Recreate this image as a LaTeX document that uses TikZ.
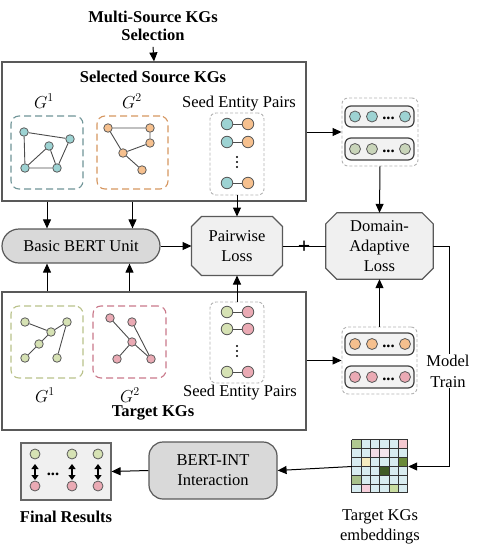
\documentclass[tikz,border=0pt]{standalone}
\usepackage{fontspec}
\setmainfont{Liberation Serif}
\usetikzlibrary{arrows.meta,calc,positioning}
\pgfdeclarelayer{background}
\pgfsetlayers{background,main}
\tikzset{>={Triangle[length=9pt,width=8pt]}}
\definecolor{entTeal}{HTML}{9DD3D3}
\definecolor{entOrange}{HTML}{F6C08E}
\definecolor{entOlive}{HTML}{D6E2B4}
\definecolor{entPink}{HTML}{EAAAB4}
\definecolor{entGrey}{HTML}{C9D5BA}
\definecolor{lineTeal}{HTML}{6F9497}
\definecolor{lineOrange}{HTML}{D59660}
\definecolor{lineOlive}{HTML}{B9C18A}
\definecolor{linePink}{HTML}{C9788A}
\definecolor{cellBlue}{HTML}{D8ECF0}
\tikzset{%
    kgframe/.style={draw=black!65,line width=1.2pt,inner sep=0pt},%
    gbox/.style={draw=#1,dashed,dash pattern=on 7pt off 4pt,rounded corners=8pt,
        line width=1.1pt,inner sep=0pt},%
    grpbox/.style={draw=black!30,dashed,dash pattern=on 3pt off 2pt,rounded corners=6pt,
        line width=0.9pt,inner sep=0pt},%
    ent/.style={circle,draw=black!65,fill=#1,minimum size=8.5pt,inner sep=0pt,line width=0.8pt},%
    sent/.style={ent=#1,minimum size=11.5pt},%
    rowbox/.style={draw=black!75,fill=black!5,rounded corners=6pt,line width=1.2pt,
        minimum width=69pt,minimum height=21pt,inner sep=0pt},%
    lossbox/.style={align=center,inner sep=0pt},%
    lossline/.style={draw=black!65,fill=black!6,line width=1.2pt},%
    unitbox/.style={draw=black!65,fill=black!15,line width=1.2pt,align=center,inner sep=0pt},%
    glabel/.style={font=\fontsize{18}{20}\selectfont,inner sep=1pt},%
    arr/.style={->,line width=1pt},%
    gedge/.style={draw=black!70,line width=0.9pt}%
}
% chamfered outline behind a named node: #1 node, #2 size of the cut
\newcommand{\chamferbox}[2]{%
  \begin{pgfonlayer}{background}
    \path[lossline] ($(#1.north west)+(#2,0)$) -- ($(#1.north east)+(-#2,0)$)
      -- ($(#1.north east)+(0,#2)$) -- ($(#1.south east)+(0,-#2)$)
      -- ($(#1.south east)+(-#2,0)$) -- ($(#1.south west)+(#2,0)$)
      -- ($(#1.south west)+(0,-#2)$) -- ($(#1.north west)+(0,#2)$) -- cycle;
  \end{pgfonlayer}
}
\begin{document}
\fontsize{16.5}{20}\selectfont
\begin{tikzpicture}[x=1pt,y=-1pt,line width=1pt]
    \useasboundingbox (0,0) rectangle (480,555);
    % frames of the two KG groups
    \node[kgframe,minimum width=304pt,minimum height=139pt] (src) at (154,131.5) {};
    \node[kgframe,minimum width=304pt,minimum height=138pt] (tgt) at (154,361) {};
    \node[font=\bfseries,align=center] (sel) at (153,26) {Multi-Source KGs\\[-2pt]Selection};
    \node[font=\bfseries] (srct) at (153,77) {Selected Source KGs};
    \node[font=\bfseries] (tgtt) at (153,413) {Target KGs};
    % source graphs
    \node[glabel] (gl1s) at (44,101) {$G^{1}$};
    \node[glabel] (gl2s) at (132,101) {$G^{2}$};
    \node[gbox=lineTeal,minimum width=72pt,minimum height=73pt] (g1s) at (47,152.5) {};
    \node[gbox=lineOrange,minimum width=71pt,minimum height=73pt] (g2s) at (132.5,152.5) {};
    \node[ent=entTeal] (a1) at (24,132) {};
    \node[ent=entTeal] (a2) at (70,139) {};
    \node[ent=entTeal] (a3) at (49,146) {};
    \node[ent=entTeal] (a4) at (25,168) {};
    \node[ent=entTeal] (a5) at (57,168) {};
    \draw[gedge] (a1) -- (a2) (a1) -- (a4) (a2) -- (a5) (a3) -- (a4) (a3) -- (a5) (a4) -- (a5);
    \node[ent=entOrange] (b1) at (108,128) {};
    \node[ent=entOrange] (b2) at (150,128) {};
    \node[ent=entOrange] (b3) at (150,143) {};
    \node[ent=entOrange] (b4) at (123,153) {};
    \node[ent=entOrange] (b5) at (142,170) {};
    \draw[gedge] (b1) -- (b2) (b2) -- (b3) (b1) -- (b4) (b4) -- (b3) (b4) -- (b5);
    % target graphs
    \node[glabel] (gl1t) at (45,395) {$G^{1}$};
    \node[glabel] (gl2t) at (130,395) {$G^{2}$};
    \node[gbox=lineOlive,minimum width=72pt,minimum height=72pt] (g1t) at (47,342) {};
    \node[gbox=linePink,minimum width=73pt,minimum height=72pt] (g2t) at (129.5,342) {};
    \node[ent=entOlive] (c1) at (25,322) {};
    \node[ent=entOlive] (c2) at (67,322) {};
    \node[ent=entOlive] (c3) at (51,332) {};
    \node[ent=entOlive] (c4) at (39,344) {};
    \node[ent=entOlive] (c5) at (25,358) {};
    \node[ent=entOlive] (c6) at (57,358) {};
    \draw[gedge] (c1) -- (c3) (c3) -- (c2) (c3) -- (c4) (c4) -- (c5) (c2) -- (c6);
    \node[ent=entPink] (d1) at (110,318) {};
    \node[ent=entPink] (d2) at (132,322) {};
    \node[ent=entPink] (d3) at (132,342) {};
    \node[ent=entPink] (d4) at (117,359) {};
    \node[ent=entPink] (d5) at (151,359) {};
    \draw[gedge] (d1) -- (d3) (d3) -- (d5) (d2) -- (d5) (d3) -- (d4);
    % seed entity pairs
    \node (spt) at (239,104) {Seed Entity Pairs};
    \node (spb) at (240,393) {Seed Entity Pairs};
    \node[grpbox,minimum width=54pt,minimum height=82pt] (seeds) at (237,154) {};
    \node[grpbox,minimum width=54pt,minimum height=81pt] (seedt) at (237,342.5) {};
    \foreach \y in {124,142,183} {
        \node[sent=entTeal] (sl\y) at (227,\y) {};
        \node[sent=entOrange] (sr\y) at (248,\y) {};
        \draw[gedge] (sl\y) -- (sr\y);
    }
    \foreach \y in {312,329,372} {
        \node[sent=entOlive] (tl\y) at (227,\y) {};
        \node[sent=entPink] (tr\y) at (248,\y) {};
        \draw[gedge] (tl\y) -- (tr\y);
    }
    % vertical dots between the pairs
    \foreach \d in {-5,0,5} {
        \fill (237,162+\d) circle (1.2);
        \fill (237,351+\d) circle (1.2);
    }
    % embedding groups
    \node[grpbox,minimum width=76pt,minimum height=68pt] (embs) at (380,132) {};
    \node[grpbox,minimum width=75pt,minimum height=67pt] (embt) at (379.5,360.5) {};
    \node[rowbox] (es1) at (379.5,116.5) {};
    \node[rowbox,minimum height=22pt] (es2) at (379.5,149) {};
    \node[rowbox,minimum height=22pt] (et1) at (379.5,344) {};
    \node[rowbox,minimum height=22pt] (et2) at (379.5,377) {};
    \foreach \r/\col in {es1/entTeal,es2/entGrey,et1/entOrange,et2/entPink} {
        \node[sent=\col,minimum size=11pt] at ($(\r.center)+(-24.5,0)$) {};
        \node[sent=\col,minimum size=11pt] at ($(\r.center)+(-7.5,0)$) {};
        \node[sent=\col,minimum size=11pt] at ($(\r.center)+(25.5,0)$) {};
        \node[font=\bfseries,inner sep=0pt] at ($(\r.center)+(9,2)$) {...};
    }
    % units and losses
    \node[unitbox,rounded corners=17pt,minimum width=158pt,minimum height=34pt] (bbu) at (81,246) {Basic BERT Unit};
    \node[lossbox,minimum width=90pt,minimum height=58pt] (pl) at (237,246) {Pairwise\\Loss};
    \chamferbox{pl}{10}
    \node[lossbox,minimum width=107pt,minimum height=66pt] (dal) at (379.5,246) {Domain-\\Adaptive\\Loss};
    \chamferbox{dal}{11}
    \node[unitbox,rounded corners=14pt,minimum width=128pt,minimum height=57pt] (bint) at (213,470.5) {BERT-INT\\Interaction};
    % embedding matrix
    \node[inner sep=0pt,minimum width=56pt,minimum height=53pt] (mat) at (380,466.5) {};
    \begin{scope}[shift={(mat.north west)}]
        \foreach \r in {0,...,5} {
            \foreach \c in {0,...,5} {
                \fill[cellBlue] (\c*9.33,\r*8.83) rectangle ++(9.33,8.83);
            }
        }
        \foreach \r/\c/\col in {0/0/B0C890,0/5/F4C8D0,1/2/F2DDE6,1/3/F4E4EC,2/1/F5ECC0,2/5/6A8A3A,
                3/3/3F5A25,4/0/A8C08A,5/1/F5D0DC,5/4/C8DCA0} {
            \definecolor{cellTmp}{HTML}{\col}
            \fill[cellTmp] (\c*9.33,\r*8.83) rectangle ++(9.33,8.83);
        }
        \foreach \i in {0,...,6} {
            \draw[black!80,line width=0.8pt] (\i*9.33,0) -- ++(0,53);
            \draw[black!80,line width=0.8pt] (0,\i*8.83) -- ++(56,0);
        }
    \end{scope}
    \node[align=center] (embtxt) at (380,527) {Target KGs\\embeddings};
    % final results
    \node[draw=black!60,fill=black!6,line width=1.2pt,minimum width=90pt,minimum height=57pt] (res) at (66,471.5) {};
    \foreach \x in {35,72,98} {
        \node[ent=entOlive,minimum size=10pt] (ru\x) at (\x,454) {};
        \node[ent=entPink,minimum size=10pt] (rd\x) at (\x,486) {};
        \draw[{Triangle[length=5pt,width=7pt]}-{Triangle[length=5pt,width=7pt]},line width=1.2pt]
            (\x,464) -- (\x,480);
    }
    \node[font=\bfseries,inner sep=0pt] (rdots) at (53,474) {...};
    \node[font=\bfseries] (restxt) at (66,517) {Final Results};
    % connectors
    \draw[arr] (sel.south) -- (src.north);
    \draw[arr] (g1s |- src.south) -- (g1s |- bbu.north);
    \draw[arr] (g2s |- src.south) -- (g2s |- bbu.north);
    \draw[arr] (g1t |- tgt.north) -- (g1t |- bbu.south);
    \draw[arr] (g2t |- tgt.north) -- (g2t |- bbu.south);
    \draw[arr] (bbu.east) -- (pl.west);
    \draw[arr] (seeds.south) -- (pl.north);
    \draw[arr] (seedt.north) -- (pl.south);
    \draw[line width=1pt] (pl.east) -- node[font=\fontsize{22}{22}\selectfont\bfseries,inner sep=0pt,yshift=-1pt] (plus) {+} (dal.west);
    \draw[arr] (src.east |- embs.west) -- (embs.west);
    \draw[arr] (embs.south) -- (dal.north);
    \draw[arr] (tgt.east |- embt.west) -- (embt.west);
    \draw[arr] (embt.north) -- (dal.south);
    \draw[arr] (dal.east) -| ($(mat.east)+(41,0)$) -- (mat.east);
    \node[fill=white,inner sep=1pt,align=center,font=\fontsize{16.5}{21}\selectfont] (mtrain) at (448,371) {Model\\Train};
    \draw[arr] (mat.west) -- (bint.east);
    \draw[arr] (bint.west) -- (res.east);
\end{tikzpicture}
\end{document}
